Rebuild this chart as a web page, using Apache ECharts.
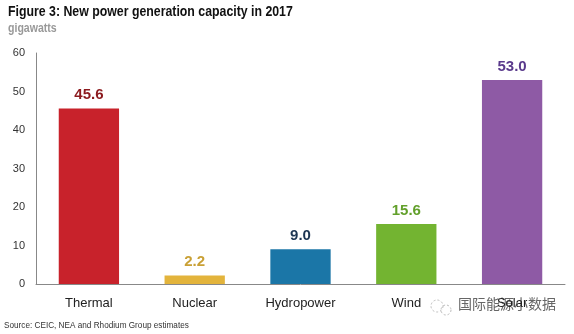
<!DOCTYPE html>
<html><head><meta charset="utf-8">
<script src="https://cdn.jsdelivr.net/npm/echarts@6/dist/echarts.min.js"></script>
<style>html,body{margin:0;padding:0;background:#fff}#c{width:574px;height:334px}</style>
</head><body><div id="c"></div>
<script>
const categories = ["Thermal", "Nuclear", "Hydropower", "Wind", "Solar"];
const values = [45.6, 2.2, 9.0, 15.6, 53.0];
const barColors = ["#c8222b", "#e3b43c", "#1b76a7", "#73b431", "#8e5aa5"];
const labelColors = ["#8c1a1e", "#c9a035", "#1c3552", "#62a02b", "#5a3a8c"];
const yTicks = [0, 10, 20, 30, 40, 50, 60];

const chart = echarts.init(document.getElementById('c'), null, {renderer: 'canvas'});
const sans = '"Liberation Sans", Arial, sans-serif';
function txt(text, x, y, font, color, sx) {
  return {type: 'text', x: x, y: y, scaleX: sx, originX: 0, originY: 0, silent: true,
    style: {text: text, font: font, fill: color, textVerticalAlign: 'top', verticalAlign: 'top'}};
}
chart.setOption({
  animation: false,
  backgroundColor: '#fff',
  graphic: [
    txt('Figure 3: New power generation capacity in 2017', 8, 5, 'bold 14px ' + sans, '#111', 0.88),
    txt('gigawatts', 8, 23, 'bold 12px ' + sans, '#999', 0.88),
    txt('Source: CEIC, NEA and Rhodium Group estimates', 4, 321, '9px ' + sans, '#333', 0.91),
    txt('国际能源小数据', 458, 297, '14px "Noto Sans CJK SC", sans-serif', '#666', 1),
    {type: 'circle', silent: true, shape: {cx: 437, cy: 306, r: 6}, style: {fill: 'none', stroke: '#bbb', lineWidth: 1, lineDash: [2, 2]}},
    {type: 'circle', silent: true, shape: {cx: 446, cy: 310, r: 5}, style: {fill: 'none', stroke: '#bbb', lineWidth: 1, lineDash: [2, 2]}}
  ],
  grid: {left: 36, right: 9, top: 53, bottom: 50, containLabel: false},
  xAxis: {
    type: 'category', data: categories,
    axisLine: {lineStyle: {color: '#888', width: 1}},
    axisTick: {show: false},
    axisLabel: {interval: 0, fontFamily: sans, fontSize: 13, color: '#222', margin: 13}
  },
  yAxis: {
    type: 'value', min: yTicks[0], max: yTicks[yTicks.length - 1], interval: 10,
    axisLine: {show: true, lineStyle: {color: '#888', width: 1}},
    axisTick: {show: false},
    splitLine: {show: false},
    axisLabel: {fontFamily: sans, fontSize: 11, color: '#333', margin: 11}
  },
  series: [{
    type: 'bar', barWidth: '57%',
    data: values.map((v, i) => ({
      value: v,
      itemStyle: {color: barColors[i]},
      label: {color: labelColors[i]}
    })),
    label: {show: true, position: 'top', distance: 6,
      fontFamily: sans, fontWeight: 'bold', fontSize: 15,
      formatter: p => p.value.toFixed(1)}
  }]
});
</script></body></html>
